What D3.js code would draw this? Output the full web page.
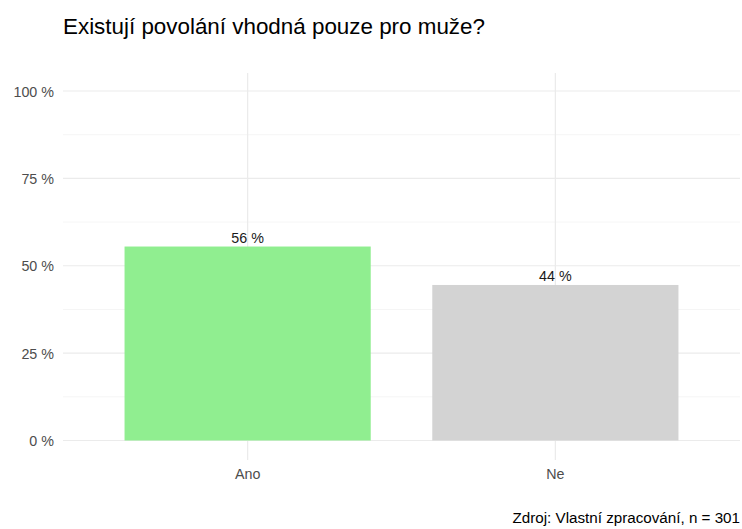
<!DOCTYPE html>
<html>
<head>
<meta charset="utf-8">
<script src="https://d3js.org/d3.v7.min.js"></script>
<style>
  body { margin: 0; background: #fff; }
  text { font-family: "Liberation Sans", Arial, sans-serif; }
</style>
</head>
<body>
<svg width=742 height=529></svg>
<script>
// data
const categories = ["Ano", "Ne"];
const shares = [0.555, 0.445];
const barLabels = ["56 %", "44 %"];
const barColors = ["#90ee90", "#d3d3d3"];
const yTicks = [0, 0.25, 0.5, 0.75, 1];
const yTickLabels = ["0 %", "25 %", "50 %", "75 %", "100 %"];
const yMinor = [0.125, 0.375, 0.625, 0.875];

const svg = d3.select("svg");

// panel bounds
const panelLeft = 63, panelRight = 740, panelTop = 73, panelBottom = 460;

const x = d3.scaleBand().domain(categories).range([panelLeft, panelRight]).paddingOuter(0.2).paddingInner(0.2);
const y = d3.scaleLinear().domain([0, 1]).range([440.5, 91]);

// grid
svg.append("g").selectAll("line").data(yMinor).join("line")
  .attr("x1", panelLeft).attr("x2", panelRight)
  .attr("y1", d => y(d)).attr("y2", d => y(d))
  .attr("stroke", "#f2f2f2").attr("stroke-width", 0.8);

svg.append("g").selectAll("line").data(yTicks).join("line")
  .attr("x1", panelLeft).attr("x2", panelRight)
  .attr("y1", d => y(d)).attr("y2", d => y(d))
  .attr("stroke", "#ebebeb").attr("stroke-width", 1.2);

svg.append("g").selectAll("line").data(categories).join("line")
  .attr("x1", d => x(d) + x.bandwidth() / 2).attr("x2", d => x(d) + x.bandwidth() / 2)
  .attr("y1", panelTop).attr("y2", panelBottom)
  .attr("stroke", "#ebebeb").attr("stroke-width", 1.2);

// bars
svg.append("g").selectAll("rect").data(categories).join("rect")
  .attr("x", d => x(d))
  .attr("width", x.bandwidth())
  .attr("y", (d, i) => y(shares[i]))
  .attr("height", (d, i) => y(0) - y(shares[i]))
  .attr("fill", (d, i) => barColors[i]);

svg.append("g").selectAll("text").data(categories).join("text")
  .attr("x", d => x(d) + x.bandwidth() / 2)
  .attr("y", (d, i) => y(shares[i]) - 3.8)
  .attr("text-anchor", "middle")
  .style("font-size", "14.3px")
  .attr("fill", "#1a1a1a")
  .text((d, i) => barLabels[i]);

// axes labels
svg.append("g").selectAll("text").data(yTicks).join("text")
  .attr("x", 54)
  .attr("y", d => y(d) + 5.5)
  .attr("text-anchor", "end")
  .style("font-size", "14.3px")
  .attr("fill", "#4d4d4d")
  .text((d, i) => yTickLabels[i]);

svg.append("g").selectAll("text").data(categories).join("text")
  .attr("x", d => x(d) + x.bandwidth() / 2)
  .attr("y", 479)
  .attr("text-anchor", "middle")
  .style("font-size", "14.3px")
  .attr("fill", "#4d4d4d")
  .text(d => d);

// title and caption
svg.append("text")
  .attr("x", 63).attr("y", 34)
  .style("font-size", "22.4px")
  .attr("fill", "#000")
  .text("Existují povolání vhodná pouze pro muže?");

svg.append("text")
  .attr("x", 740).attr("y", 523)
  .attr("text-anchor", "end")
  .style("font-size", "15.2px")
  .attr("fill", "#000")
  .text("Zdroj: Vlastní zpracování, n = 301");
</script>
</body>
</html>
